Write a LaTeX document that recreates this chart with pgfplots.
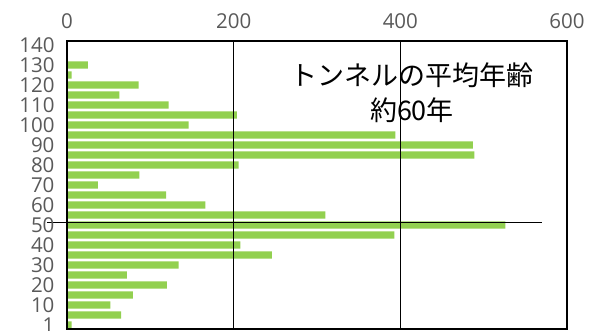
\documentclass[border=0pt]{standalone}
\usepackage{fontspec}
\setmainfont{Open Sans}
\newfontfamily\jp{Noto Sans CJK JP}
\usepackage{pgfplots}
\pgfplotsset{compat=1.18}
\definecolor{barg}{HTML}{92D050}
\definecolor{tickgray}{HTML}{595959}
\begin{document}
\begin{tikzpicture}
\begin{axis}[
  at={(0,0)}, anchor=south west,
  scale only axis, width=500pt, height=288pt,
  xmin=0, xmax=600, ymin=-0.4, ymax=28.4,
  xtick={0,200,400,600}, xticklabel pos=upper,
  ytick={0,2,4,6,8,10,12,14,16,18,20,22,24,26,28},
  yticklabels={1,10,20,30,40,50,60,70,80,90,100,110,120,130,140},
  major tick length=0,
  xmajorgrids, grid style={black, line width=1.2pt},
  axis line style={black, line width=1.2pt},
  tick label style={font=\fontsize{20.5}{20.5}\selectfont, text=tickgray},
  x tick label style={yshift=9pt},
  y tick label style={xshift=-9pt},
  /pgf/number format/assume math mode=true,
  xbar, bar width=0.72,
  axis on top,
  clip=false,
]
\addplot[fill=barg, draw=none] coordinates {
(5.6,0) (65,1) (52,2) (79,3) (120,4) (72,5) (134,6) (246,7) (208,8) (393,9)
(526,10) (310,11) (166,12) (119,13) (37,14) (87,15) (206,16) (489,17) (487,18)
(394,19) (146,20) (204,21) (122,22) (63,23) (86,24) (5.6,25) (25,26)
};
\draw[black, line width=1.2pt] (axis cs:-24,10.25) -- (axis cs:570,10.25);
\node[font=\jp\fontsize{27}{35}\selectfont, align=center] at (axis cs:414,23.2) {トンネルの平均年齢\\約60年};
\end{axis}
\pgfresetboundingbox
\path (-67pt,-2pt) rectangle (523pt,329pt);
\end{tikzpicture}
\end{document}
